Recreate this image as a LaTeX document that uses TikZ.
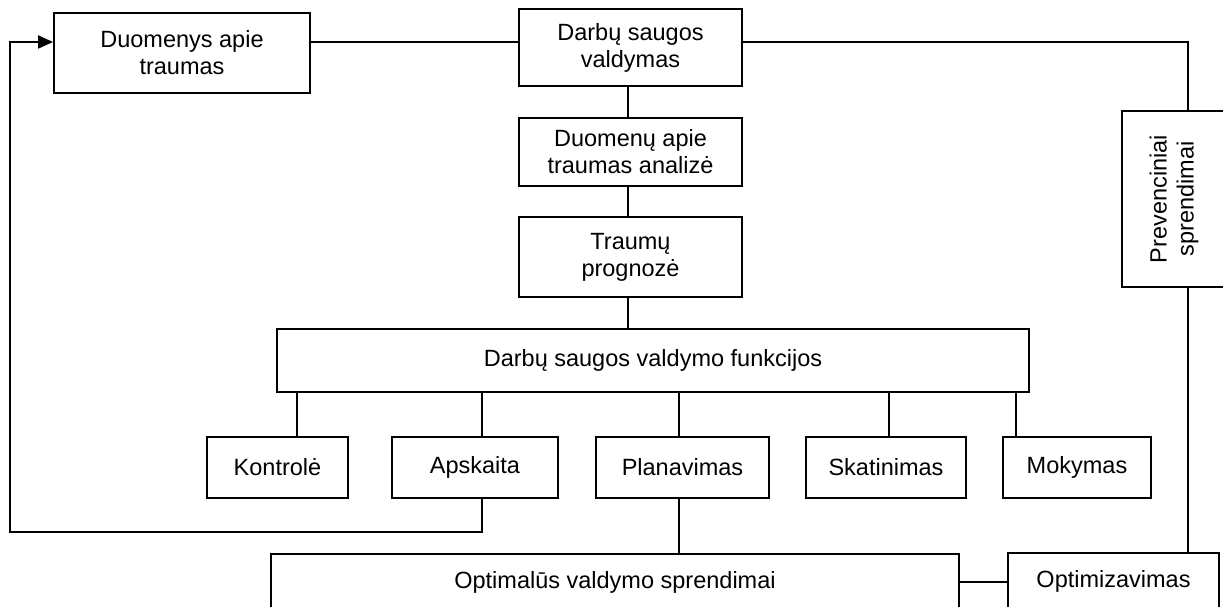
\documentclass[tikz,border=0pt]{standalone}
\usepackage{fontspec}
\setmainfont{Liberation Sans}
\usetikzlibrary{arrows.meta}
\begin{document}
\begin{tikzpicture}[x=1pt,y=-1pt,
  box/.style={draw=black,line width=1.8pt,rectangle,inner sep=0pt,align=center,
    font=\fontsize{23.5}{27}\selectfont},
  conn/.style={line width=1.8pt},
  arr/.style={conn,-{Triangle[length=15pt,width=13pt]}}]
\useasboundingbox (0,0) rectangle (1223,607);
% nodes
\node[box,minimum width=256,minimum height=80] (dat) at (182,53) {Duomenys apie\\traumas};
\node[box,minimum width=223,minimum height=77] (dsv) at (630.5,47.5) {Darbų saugos\\valdymas};
\node[box,minimum width=223,minimum height=68] (ana) at (630.5,152) {Duomenų apie\\traumas analizė};
\node[box,minimum width=223,minimum height=80] (tra) at (630.5,257) {Traumų\\prognozė};
\node[box,minimum width=752,minimum height=63] (fun) at (653,360.5) {Darbų saugos valdymo funkcijos};
\node[box,minimum width=141,minimum height=61] (kon) at (277.5,467.5) {Kontrolė};
\node[box,minimum width=166,minimum height=61] (aps) at (475,467.5) {Apskaita};
\node[box,minimum width=173,minimum height=61] (pla) at (682.5,467.5) {Planavimas};
\node[box,minimum width=160,minimum height=61] (ska) at (886,467.5) {Skatinimas};
\node[box,minimum width=148,minimum height=61] (mok) at (1077,467.5) {Mokymas};
\node[box,minimum width=688,minimum height=56] (opt) at (615,582) {Optimalūs valdymo sprendimai};
\node[box,minimum width=211,minimum height=56] (optz) at (1113.5,581) {Optimizavimas};
\node[box,rotate=90,minimum width=176,minimum height=104] (prev) at (1174,199) {Prevenciniai\\sprendimai};
% helper coordinates
\coordinate (ly) at (0,42);
\coordinate (cR) at (1188,0);
\coordinate (c1) at (297,0);
\coordinate (c2) at (482,0);
\coordinate (c3) at (679,0);
\coordinate (c4) at (889,0);
\coordinate (c5) at (1016,0);
\coordinate (fbL) at (10,532);
\coordinate (cT) at (628,0);
% connectors
\draw[conn] (dat.east |- ly) -- (dsv.west |- ly);
\draw[conn] (dsv.east |- ly) -| (prev.east -| cR);
\draw[conn] (prev.west -| cR) -- (optz.north -| cR);
\draw[conn] (dsv.south -| cT) -- (ana.north -| cT);
\draw[conn] (ana.south -| cT) -- (tra.north -| cT);
\draw[conn] (tra.south -| cT) -- (fun.north -| cT);
\draw[conn] (fun.south -| c1) -- (kon.north -| c1);
\draw[conn] (fun.south -| c2) -- (aps.north -| c2);
\draw[conn] (fun.south -| c3) -- (pla.north -| c3);
\draw[conn] (fun.south -| c4) -- (ska.north -| c4);
\draw[conn] (fun.south -| c5) -- (mok.north -| c5);
\draw[conn] (pla.south -| c3) -- (opt.north -| c3);
\draw[conn] (opt.east) -- (optz.west |- opt.east);
\draw[arr] (aps.south -| c2) |- (fbL) |- (dat.west |- ly);
\end{tikzpicture}
\end{document}
